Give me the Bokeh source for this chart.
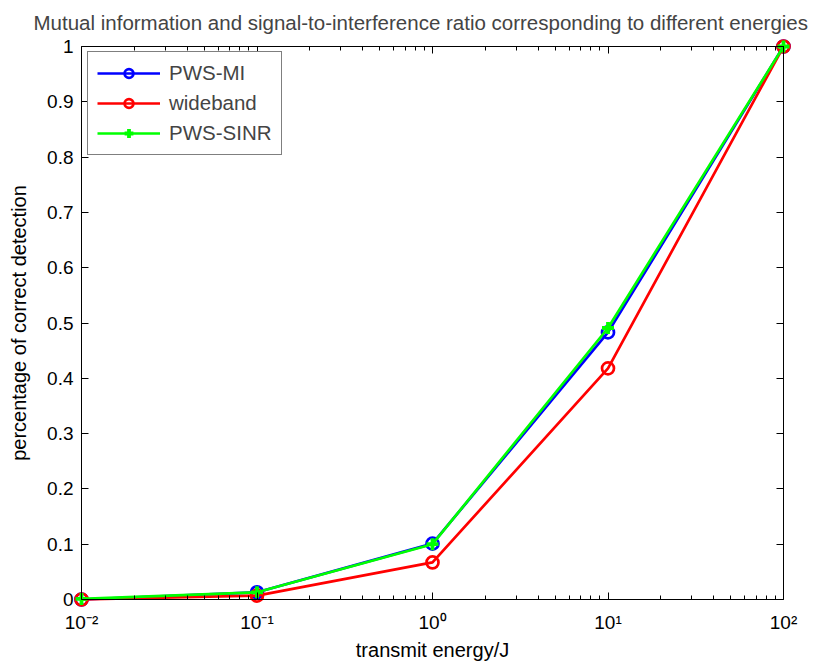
import math
from bokeh.plotting import figure
from bokeh.models import FixedTicker, LogAxis, LinearAxis, Legend, LegendItem, Range1d
from bokeh.embed import file_html
from bokeh.resources import INLINE

# ---- data ----
energy = [0.01, 0.1, 1, 10, 100]
pws_mi = [0.0, 0.013, 0.101, 0.483, 1.0]
wideband = [0.0, 0.007, 0.067, 0.418, 1.0]
pws_sinr = [0.001, 0.013, 0.100, 0.491, 1.0]

x_ticks = [0.01, 0.1, 1, 10, 100]
x_tick_labels = ["10⁻²", "10⁻¹", "10⁰", "10¹", "10²"]
y_ticks = [0, 0.1, 0.2, 0.3, 0.4, 0.5, 0.6, 0.7, 0.8, 0.9, 1]
y_tick_labels = ["0", "0.1", "0.2", "0.3", "0.4", "0.5", "0.6", "0.7", "0.8", "0.9", "1"]

title_text = "Mutual information and signal-to-interference ratio corresponding to different energies"
x_label = "transmit energy/J"
y_label = "percentage of correct detection"

FONT = "Liberation Sans"

x_lo, x_hi = x_ticks[0], x_ticks[-1]
y_lo, y_hi = y_ticks[0], y_ticks[-1]
x_minor = [m * d for d in x_ticks[:-1] for m in range(2, 10)]

# axes box in pixels; frame padded so that markers on the box are not clipped
BOX_W, BOX_H, PAD = 702, 553, 8
dec = math.log10(x_hi) - math.log10(x_lo)
px_pad = PAD * dec / BOX_W
py_pad = PAD * (y_hi - y_lo) / BOX_H

p = figure(width=824, height=664, x_axis_type="log",
           x_range=Range1d(10 ** (math.log10(x_lo) - px_pad), 10 ** (math.log10(x_hi) + px_pad)),
           y_range=Range1d(y_lo - py_pad, y_hi + py_pad),
           output_backend="svg", toolbar_location=None,
           title=title_text,
           min_border_left=81 - PAD, min_border_right=824 - 783 - PAD,
           min_border_top=46 - PAD, min_border_bottom=664 - 599 - PAD)

p.title.text_font = FONT
p.title.text_font_size = "20.5px"
p.title.text_font_style = "normal"
p.title.align = "left"
p.title.offset = -40
p.title.standoff = 10

p.grid.visible = False
p.outline_line_color = None
p.background_fill_color = "white"
p.border_fill_color = "white"


def make_ticker(ticks, minor):
    return FixedTicker(ticks=ticks, minor_ticks=minor)


# --- label-only axes at the frame edges ---
xb = p.xaxis[0]
yl = p.yaxis[0]
for ax, ticks, minor, labels in ((xb, x_ticks, x_minor, x_tick_labels),
                                 (yl, y_ticks, [], y_tick_labels)):
    ax.ticker = make_ticker(ticks, minor)
    ax.axis_line_color = None
    ax.major_tick_line_color = None
    ax.minor_tick_line_color = None
    ax.major_tick_in = 0
    ax.major_tick_out = 0
    ax.minor_tick_in = 0
    ax.minor_tick_out = 0
    ax.major_label_overrides = {t: l for t, l in zip(ticks, labels)}
    ax.major_label_text_font = FONT
    ax.major_label_text_font_size = "19px"
    ax.major_label_text_color = "black"
    ax.axis_label_text_font = FONT
    ax.axis_label_text_font_size = "20px"
    ax.axis_label_text_font_style = "normal"
    ax.axis_label_text_color = "black"
xb.axis_label = x_label
yl.axis_label = y_label
xb.major_label_standoff = 4
xb.axis_label_standoff = 3
yl.major_label_standoff = 0
yl.axis_label_standoff = 14


# --- box axes (lines + inward ticks) at the data limits ---
def box_axis(cls, ticks, minor, loc, bounds):
    ax = cls()
    ax.ticker = make_ticker(ticks, minor)
    ax.fixed_location = loc
    ax.bounds = bounds
    ax.major_tick_in = 7
    ax.major_tick_out = 0
    ax.minor_tick_in = 4
    ax.minor_tick_out = 0
    ax.axis_line_color = "black"
    ax.axis_line_width = 1
    ax.major_tick_line_color = "black"
    ax.minor_tick_line_color = "black"
    ax.major_label_overrides = {t: "" for t in ticks}
    ax.major_label_standoff = 0
    ax.major_label_text_font_size = "1px"
    return ax


p.add_layout(box_axis(LogAxis, x_ticks, x_minor, y_lo, (x_lo, x_hi)), "below")
p.add_layout(box_axis(LogAxis, x_ticks, x_minor, y_hi, (x_lo, x_hi)), "above")
p.add_layout(box_axis(LinearAxis, y_ticks, [], x_lo, (y_lo, y_hi)), "left")
p.add_layout(box_axis(LinearAxis, y_ticks, [], x_hi, (y_lo, y_hi)), "right")

LW = 2.7
l1 = p.line(energy, pws_mi, line_color="#0000ff", line_width=LW)
m1 = p.scatter(energy, pws_mi, marker="circle", size=12, fill_color=None,
               line_color="#0000ff", line_width=LW)
l2 = p.line(energy, wideband, line_color="#ff0000", line_width=LW)
m2 = p.scatter(energy, wideband, marker="circle", size=12, fill_color=None,
               line_color="#ff0000", line_width=LW)
l3 = p.line(energy, pws_sinr, line_color="#00ff00", line_width=LW)
m3 = p.scatter(energy, pws_sinr, marker="cross", size=12, fill_color="#00ff00",
               line_color="#00ff00", line_width=3.8)

legend = Legend(items=[
    LegendItem(label="PWS-MI", renderers=[l1, m1]),
    LegendItem(label="wideband", renderers=[l2, m2]),
    LegendItem(label="PWS-SINR", renderers=[l3, m3]),
], location=(87 - (81 - PAD), (599 + PAD) - 155))
legend.label_text_font = FONT
legend.label_text_font_size = "20.5px"
legend.glyph_width = 63
legend.glyph_height = 22
legend.label_height = 22
legend.spacing = 6
legend.padding = 9
legend.margin = 0
legend.label_standoff = 9
legend.border_line_color = "black"
legend.border_line_width = 1
legend.background_fill_color = "white"
legend.background_fill_alpha = 1
p.add_layout(legend, "center")

open("out.html", "w").write(file_html(p, INLINE))
